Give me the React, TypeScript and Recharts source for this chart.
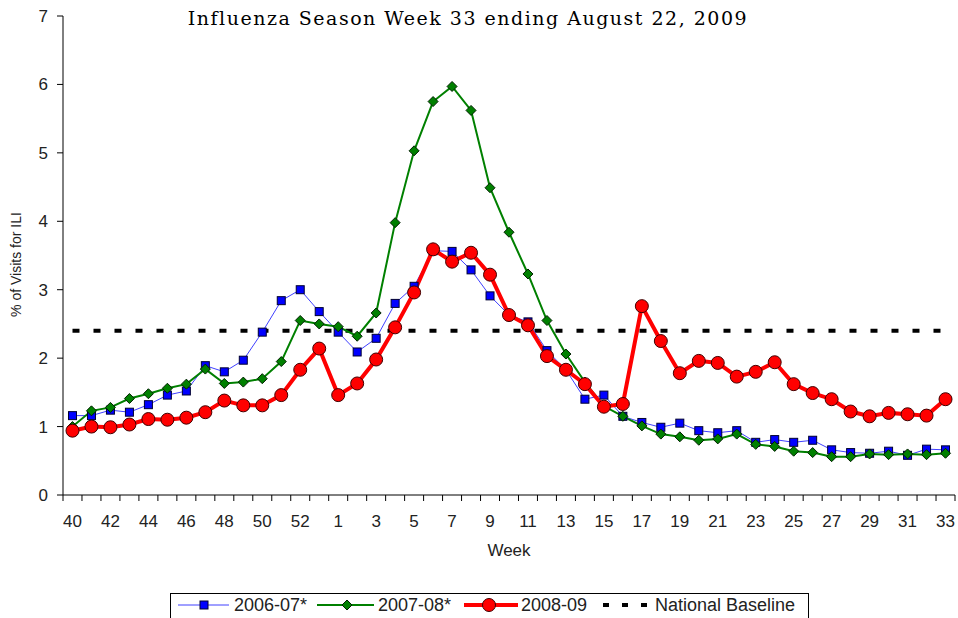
import React from 'react';
import { LineChart, Line, XAxis, YAxis } from 'recharts';

// week labels (2008 had a week 53)
const weeks = [
  '40', '41', '42', '43', '44', '45', '46', '47', '48', '49', '50', '51', '52', '53',
  '1', '2', '3', '4', '5', '6', '7', '8', '9', '10', '11', '12', '13', '14', '15', '16',
  '17', '18', '19', '20', '21', '22', '23', '24', '25', '26', '27', '28', '29', '30',
  '31', '32', '33',
];

const season0607 = [
  1.16, 1.16, 1.24, 1.21, 1.32, 1.46, 1.52, 1.89, 1.8, 1.97, 2.38, 2.84, 3.0, 2.68,
  2.38, 2.09, 2.29, 2.8, 3.05, 3.57, 3.56, 3.29, 2.91, 2.63, 2.53, 2.11, 1.83, 1.4, 1.46,
  1.15, 1.06, 0.99, 1.05, 0.94, 0.91, 0.94, 0.77, 0.81, 0.77, 0.8, 0.66, 0.62, 0.61,
  0.64, 0.58, 0.67, 0.66,
];

const season0708 = [
  1.0, 1.23, 1.28, 1.41, 1.48, 1.56, 1.62, 1.84, 1.63, 1.65, 1.7, 1.95, 2.55, 2.5,
  2.46, 2.32, 2.66, 3.98, 5.03, 5.75, 5.97, 5.62, 4.49, 3.84, 3.23, 2.55, 2.06, 1.65, 1.3,
  1.15, 1.01, 0.89, 0.85, 0.8, 0.82, 0.89, 0.74, 0.71, 0.64, 0.62, 0.56, 0.56, 0.6,
  0.59, 0.6, 0.59, 0.61,
];

const season0809 = [
  0.94, 1.0, 0.99, 1.03, 1.11, 1.1, 1.13, 1.21, 1.38, 1.31, 1.31, 1.46, 1.83, 2.14,
  1.46, 1.63, 1.98, 2.45, 2.96, 3.59, 3.41, 3.54, 3.22, 2.63, 2.48, 2.03, 1.83, 1.62, 1.29,
  1.33, 2.76, 2.25, 1.78, 1.96, 1.93, 1.73, 1.8, 1.94, 1.62, 1.49, 1.4, 1.22, 1.15,
  1.2, 1.18, 1.16, 1.4,
];

const nationalBaseline = 2.4;
const yTicks = [0, 1, 2, 3, 4, 5, 6, 7];

const data = weeks.map((week, i) => ({
  week,
  s0607: season0607[i],
  s0708: season0708[i],
  s0809: season0809[i],
  baseline: nationalBaseline,
}));

const W = 958;
const H = 618;
const PLOT_LEFT = 63;
const PLOT_RIGHT = 955;
const PLOT_TOP = 16;
const PLOT_BOTTOM = 495;
const STEP = (PLOT_RIGHT - PLOT_LEFT) / weeks.length;

const SANS = "'Liberation Sans', Arial, sans-serif";
const SERIF = "'DejaVu Serif', serif";
const TEXT = '#222';

const Square = ({ cx, cy }: { cx: number; cy: number }) => (
  <rect x={cx - 4} y={cy - 4} width={8} height={8} fill="#0000ff" stroke="#000030" strokeWidth={1} />
);

const Diamond = ({ cx, cy }: { cx: number; cy: number }) => (
  <polygon
    points={`${cx},${cy - 5} ${cx + 5},${cy} ${cx},${cy + 5} ${cx - 5},${cy}`}
    fill="#008000"
    stroke="#002000"
    strokeWidth={1}
  />
);

const Circle = ({ cx, cy }: { cx: number; cy: number }) => (
  <circle cx={cx} cy={cy} r={6.5} fill="#ff0000" stroke="#400000" strokeWidth={1} />
);

const dotWith = (Shape: React.FC<{ cx: number; cy: number }>) => (props: any) => {
  const { cx, cy, index } = props;
  if (cx == null || cy == null) return <g key={index} />;
  return (
    <g key={index}>
      <Shape cx={cx} cy={cy} />
    </g>
  );
};

// Excel-style ticks: marks between categories, label on every other week
const WeekTick = (props: any) => {
  const { x, y, payload, index } = props;
  const i = payload?.index ?? index;
  const left = x - STEP / 2;
  return (
    <g>
      <line x1={left} y1={y} x2={left} y2={y + 6} stroke="#000" />
      {i === weeks.length - 1 && <line x1={x + STEP / 2} y1={y} x2={x + STEP / 2} y2={y + 6} stroke="#000" />}
      {i % 2 === 0 && (
        <text x={x} y={y + 32} textAnchor="middle" fontSize={17} fill={TEXT} fontFamily={SANS}>
          {payload.value}
        </text>
      )}
    </g>
  );
};

const yLabel = (props: any) => {
  const vb = props.viewBox || { y: PLOT_TOP, height: PLOT_BOTTOM - PLOT_TOP };
  const cy = vb.y + vb.height / 2 + 9;
  return (
    <text
      x={16}
      y={cy}
      transform={`rotate(-90, 16, ${cy})`}
      textAnchor="middle"
      dominantBaseline="central"
      fontSize={14}
      fill={TEXT}
      fontFamily={SANS}
    >
      % of Visits for ILI
    </text>
  );
};

const LegendBox = () => {
  const y = 605;
  return (
    <svg width={W} height={H} style={{ position: 'absolute', left: 0, top: 0, pointerEvents: 'none' }}>
      <text x={468} y={25} textAnchor="middle" fontSize={19} letterSpacing={1.5} fontFamily={SERIF} fill="#000">
        Influenza Season Week 33 ending August 22, 2009
      </text>
      <rect x={170.5} y={593.5} width={638} height={30} fill="#fff" stroke="#000" />
      <line x1={178} y1={y} x2={229} y2={y} stroke="#4040ff" strokeWidth={1} />
      <Square cx={204} cy={y} />
      <text x={234} y={y + 6} fontSize={18} fill={TEXT} fontFamily={SANS}>2006-07*</text>
      <line x1={317} y1={y} x2={374} y2={y} stroke="#008000" strokeWidth={2} />
      <Diamond cx={347} cy={y} />
      <text x={378} y={y + 6} fontSize={18} fill={TEXT} fontFamily={SANS}>2007-08*</text>
      <line x1={464} y1={y} x2={518} y2={y} stroke="#ff0000" strokeWidth={4} />
      <Circle cx={489} cy={y} />
      <text x={521} y={y + 6} fontSize={18} fill={TEXT} fontFamily={SANS}>2008-09</text>
      <line x1={603} y1={y} x2={648} y2={y} stroke="#000" strokeWidth={4} strokeDasharray="6 13" />
      <text x={655} y={y + 6} fontSize={18} fill={TEXT} fontFamily={SANS}>National Baseline</text>
    </svg>
  );
};

export default function App() {
  return (
    <div style={{ position: 'absolute', left: 0, top: 0, width: W, height: H, background: '#fff' }}>
      <LineChart
        width={W}
        height={H}
        data={data}
        margin={{ top: PLOT_TOP, right: W - PLOT_RIGHT, left: 0, bottom: 0 }}
      >
        <XAxis
          dataKey="week"
          interval={0}
          tickLine={false}
          tickSize={0}
          tickMargin={0}
          height={H - PLOT_BOTTOM}
          padding={{ left: STEP / 2, right: STEP / 2 }}
          axisLine={{ stroke: '#000' }}
          tick={<WeekTick />}
          label={{ value: 'Week', position: 'insideTop', offset: 49, fontSize: 17, fill: TEXT, fontFamily: SANS }}
        />
        <YAxis
          type="number"
          domain={[0, 7]}
          ticks={yTicks}
          interval={0}
          width={PLOT_LEFT}
          tickSize={6}
          tickMargin={9}
          axisLine={{ stroke: '#000' }}
          tickLine={{ stroke: '#000' }}
          tick={{ fontSize: 17, fill: TEXT, fontFamily: SANS }}
          label={yLabel}
        />
        <Line
          dataKey="baseline"
          stroke="#000"
          strokeWidth={4}
          strokeDasharray="7 14"
          dot={false}
          activeDot={false}
          isAnimationActive={false}
        />
        <Line
          dataKey="s0607"
          name="2006-07*"
          stroke="#4040ff"
          strokeWidth={1}
          dot={dotWith(Square)}
          activeDot={false}
          isAnimationActive={false}
        />
        <Line
          dataKey="s0708"
          name="2007-08*"
          stroke="#008000"
          strokeWidth={2}
          dot={dotWith(Diamond)}
          activeDot={false}
          isAnimationActive={false}
        />
        <Line
          dataKey="s0809"
          name="2008-09"
          stroke="#ff0000"
          strokeWidth={4}
          dot={dotWith(Circle)}
          activeDot={false}
          isAnimationActive={false}
        />
      </LineChart>
      <LegendBox />
    </div>
  );
}
